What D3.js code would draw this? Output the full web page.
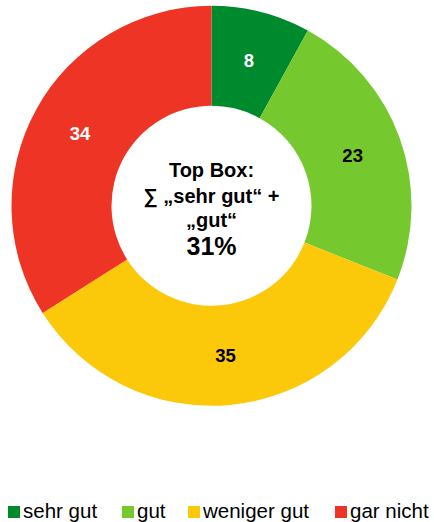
<!DOCTYPE html>
<html>
<head>
<meta charset="utf-8">
<script src="https://cdn.jsdelivr.net/npm/d3@7"></script>
<style>
  html, body { margin: 0; padding: 0; background: #fff; }
  svg { display: block; font-family: "Liberation Sans", Arial, sans-serif; }
</style>
</head>
<body>
<svg id="chart" width="434" height="522"></svg>
<script>
const categories = ["sehr gut", "gut", "weniger gut", "gar nicht"];
const values = [8, 23, 35, 34];
const colors = ["#008A2E", "#76C82F", "#FCC80A", "#EE3424"];
const labelColors = ["#ffffff", "#000000", "#000000", "#ffffff"];
const centerLines = ["Top Box:", "\u2211 \u201Esehr gut\u201C +", "\u201Egut\u201C"];
const centerValue = "31%";

const svg = d3.select("#chart");
const cx = 211.5, cy = 205.8, rOuter = 200, rInner = 100;

const data = categories.map((c, i) => ({ cat: c, value: values[i], color: colors[i], lc: labelColors[i] }));

const pie = d3.pie().value(d => d.value).sort(null);
const arc = d3.arc().innerRadius(rInner).outerRadius(rOuter);
const arcs = pie(data);

const g = svg.append("g").attr("transform", `translate(${cx},${cy})`);
g.selectAll("path").data(arcs).join("path")
  .attr("d", arc)
  .attr("fill", d => d.data.color);

g.selectAll("text.lbl").data(arcs).join("text")
  .attr("class", "lbl")
  .attr("transform", d => `translate(${arc.centroid(d)})`)
  .attr("text-anchor", "middle")
  .attr("dy", "0.36em")
  .attr("font-size", 18.5)
  .attr("font-weight", "bold")
  .attr("fill", d => d.data.lc)
  .text(d => d.data.value);

// center text
const ct = svg.append("g").attr("transform", `translate(${cx},0)`);
const baselines = [176.5, 202.5, 227];
centerLines.forEach((t, i) => {
  ct.append("text")
    .attr("x", 0).attr("y", baselines[i])
    .attr("text-anchor", "middle")
    .attr("font-size", 20)
    .attr("font-weight", "bold")
    .attr("fill", "#000")
    .text(t);
});
ct.append("text")
  .attr("x", 0).attr("y", 255)
  .attr("text-anchor", "middle")
  .attr("font-size", 25)
  .attr("font-weight", "bold")
  .attr("fill", "#000")
  .text(centerValue);

// legend
const legendX = [8, 122, 188, 335];
const lg = svg.append("g");
data.forEach((d, i) => {
  lg.append("rect")
    .attr("x", legendX[i]).attr("y", 506)
    .attr("width", 12).attr("height", 12)
    .attr("fill", d.color);
  lg.append("text")
    .attr("x", legendX[i] + 15).attr("y", 518)
    .attr("font-size", 20.5)
    .attr("fill", "#000")
    .text(d.cat);
});
</script>
</body>
</html>
